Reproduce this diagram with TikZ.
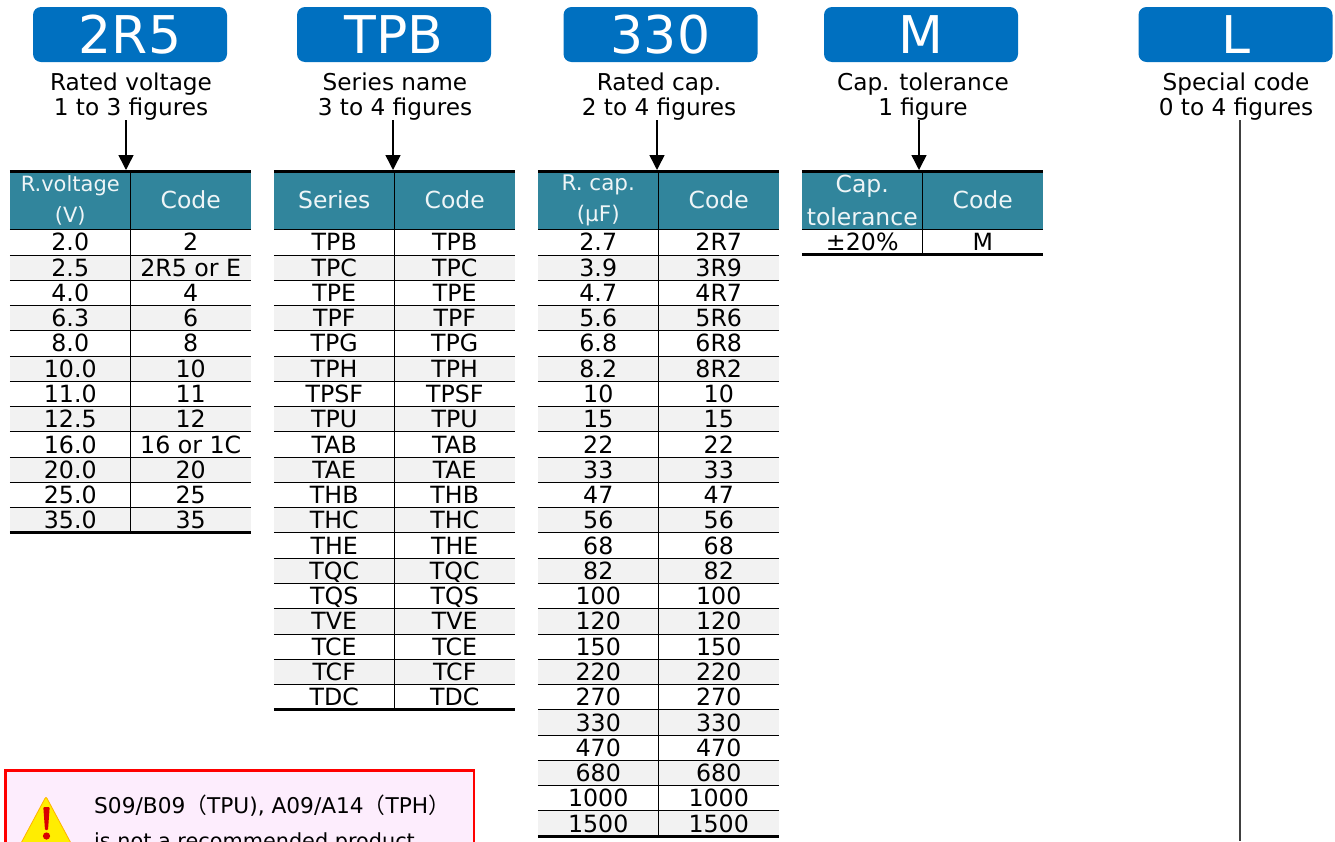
\documentclass[tikz,border=0pt]{standalone}
\usepackage{fontspec}
\setmainfont{DejaVu Sans}
\newfontfamily\cjk{Noto Sans CJK JP}
\usetikzlibrary{arrows.meta}
\definecolor{pillblue}{HTML}{0070C0}
\definecolor{headteal}{HTML}{31859C}
\definecolor{rowgrey}{HTML}{F2F2F2}
\definecolor{alertpink}{HTML}{FDEDFD}
\tikzset{
	pill/.style={fill=pillblue,rounded corners=8pt,minimum width=194pt,minimum height=55pt,inner sep=0pt,text=white,font=\fontsize{52}{52}\selectfont},
	caption/.style={align=center,inner sep=0pt,font=\fontsize{23.2}{25}\selectfont},
	headcell/.style={fill=headteal,minimum width=120.5pt,minimum height=58pt,inner sep=0pt,align=center,text=white!92!headteal,font=\fontsize{23.5}{33}\selectfont},
	onehead/.style={headcell,text depth=2pt},
	cell/.style={minimum width=120.5pt,minimum height=25.27pt,inner sep=0pt,text height=17.5pt,text depth=0pt,font=\fontsize{23.7}{25}\selectfont},
	pointer/.style={-{Triangle[length=15pt,width=15pt]},line width=1.5pt},
	rowline/.style={line width=0.9pt}
}
\newcommand{\coderows}[3]{%
	\foreach \val/\code [count=\i] in {#3} {
		\pgfmathsetmacro{\rowy}{229.5+(\i-0.5)*25.27}
		\ifodd\i \def\rowfill{white}\else \def\rowfill{rowgrey}\fi
		\node[cell,fill=\rowfill] (#1val\i) at (#2+60.25,\rowy) {\val};
		\node[cell,fill=\rowfill] (#1code\i) at (#2+180.75,\rowy) {\code};
	}
}
\newcommand{\tablerim}[2]{%
	\foreach \i in {1,...,#2} {
		\draw[rowline] (#1val\i.south west) -- (#1code\i.south east);
		\draw[rowline] (#1val\i.north east) -- (#1val\i.south east);
	}
	\draw[line width=3pt] (#1head.north west) -- (#1right.north east);
	\draw[rowline] (#1head.north east) -- (#1head.south east);
	\draw[rowline] (#1head.south west) -- (#1right.south east);
	\draw[line width=3pt] (#1val#2.south west) -- (#1code#2.south east);
}
\begin{document}
\begin{tikzpicture}[x=1pt,y=-1pt]
	\useasboundingbox (0,0) rectangle (1335,841);
	\clip (0,0) rectangle (1335,841);

	\node[pill] (voltpill) at (130,34.5) {2R5};
	\node[pill] (seriespill) at (394,34.5) {TPB};
	\node[pill] (cappill) at (660.5,34.5) {330};
	\node[pill] (tolpill) at (921,34.5) {M};
	\node[pill] (specpill) at (1235.5,34.5) {L};

	\node[caption] (voltcap) at (131,97) {Rated voltage\\1 to 3 figures};
	\node[caption] (seriescap) at (395,97) {Series name\\3 to 4 figures};
	\node[caption] (capcap) at (659,97) {Rated cap.\\2 to 4 figures};
	\node[caption] (tolcap) at (923,97) {Cap. tolerance\\1 figure};
	\node[caption] (speccap) at (1236,97) {Special code\\0 to 4 figures};

	\node[headcell,font=\fontsize{21}{31}\selectfont] (volthead) at (70.25,200.5) {R.voltage\\(V)};
	\node[onehead] (voltright) at (190.75,200.5) {Code};
	\node[onehead] (serieshead) at (334.25,200.5) {Series};
	\node[onehead] (seriesright) at (454.75,200.5) {Code};
	\node[headcell,font=\fontsize{21.5}{31}\selectfont] (caphead) at (598.25,200.5) {R. cap.\\(μF)};
	\node[onehead] (capright) at (718.75,200.5) {Code};
	\node[headcell] (tolhead) at (862.25,200.5) {Cap.\\tolerance};
	\node[onehead] (tolright) at (982.75,200.5) {Code};

	\coderows{volt}{10}{2.0/2,2.5/2R5 or E,4.0/4,6.3/6,8.0/8,10.0/10,11.0/11,12.5/12,16.0/16 or 1C,20.0/20,25.0/25,35.0/35}
	\coderows{series}{274}{TPB/TPB,TPC/TPC,TPE/TPE,TPF/TPF,TPG/TPG,TPH/TPH,TPSF/TPSF,TPU/TPU,TAB/TAB,TAE/TAE,THB/THB,THC/THC,THE/THE,TQC/TQC,TQS/TQS,TVE/TVE,TCE/TCE,TCF/TCF,TDC/TDC}
	\coderows{cap}{538}{2.7/2R7,3.9/3R9,4.7/4R7,5.6/5R6,6.8/6R8,8.2/8R2,10/10,15/15,22/22,33/33,47/47,56/56,68/68,82/82,100/100,120/120,150/150,220/220,270/270,330/330,470/470,680/680,1000/1000,1500/1500}
	\coderows{tol}{802}{±20\%/M}

	\tablerim{volt}{12}
	\tablerim{series}{19}
	\tablerim{cap}{24}
	\tablerim{tol}{1}

	\path (126,120) coordinate (voltfrom) ++ (0,50) coordinate (voltto);
	\path (393,120) coordinate (seriesfrom) ++ (0,50) coordinate (seriesto);
	\path (657,120) coordinate (capfrom) ++ (0,50) coordinate (capto);
	\path (919,120) coordinate (tolfrom) ++ (0,50) coordinate (tolto);
	\path (1240,120) coordinate (specfrom) ++ (0,721) coordinate (specto);
	\draw[pointer] (voltfrom) -- (voltto);
	\draw[pointer] (seriesfrom) -- (seriesto);
	\draw[pointer] (capfrom) -- (capto);
	\draw[pointer] (tolfrom) -- (tolto);
	\draw[line width=1.5pt,black!75] (specfrom) -- (specto);

	\draw[red,line width=2.2pt,fill=alertpink] (5.5,770.5) rectangle (474,900);
	\draw[fill=yellow!95!orange,draw=orange!60!yellow,line width=0.8pt,rounded corners=2pt,line join=round] (46,796.5) -- (12,860) -- (80,860) -- cycle;
	\fill[red!85!black,rounded corners=1pt] (43.3,807) -- (49.7,807) -- (48,830) -- (45,830) -- cycle;
	\fill[red!85!black] (46.5,836) circle (3.6);
	\node[anchor=base west,inner sep=0pt,font=\fontsize{21.7}{22}\selectfont] (alerttext) at (94,813.5) {S09/B09{\cjk（}TPU), A09/A14{\cjk（}TPH{\cjk）}};
	\node[anchor=base west,inner sep=0pt,font=\fontsize{20.8}{21}\selectfont] (alertmore) at (94,848) {is not a recommended product};
\end{tikzpicture}
\end{document}
